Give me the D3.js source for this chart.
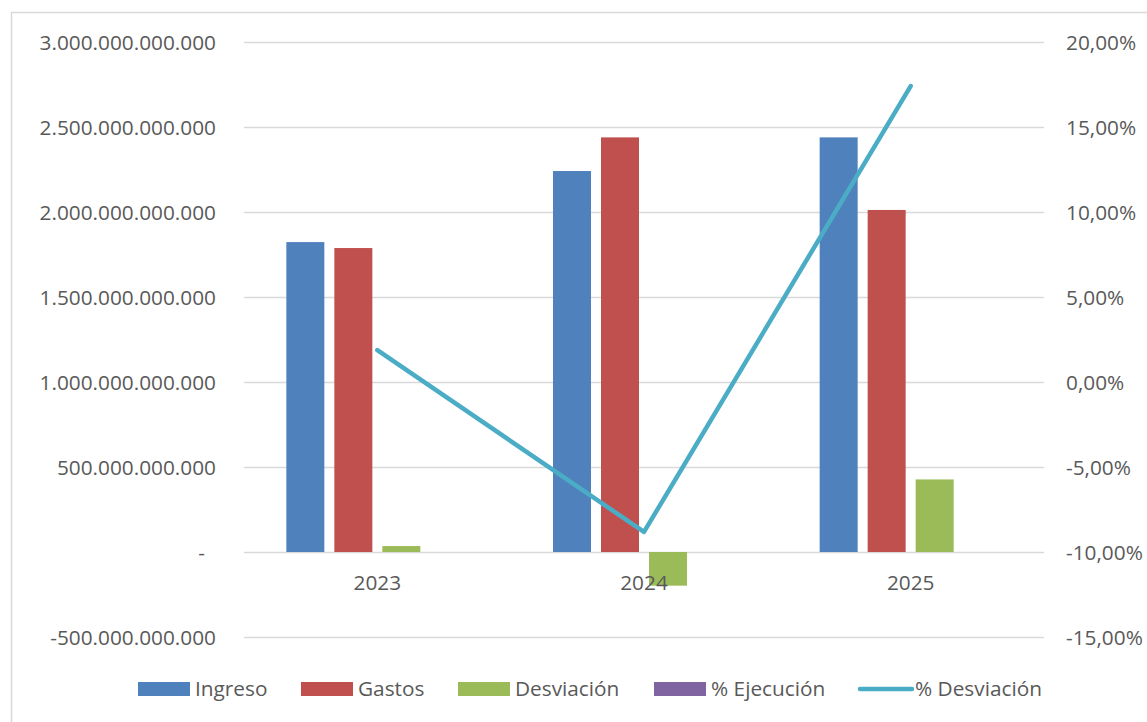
<!DOCTYPE html>
<html>
<head>
<meta charset="utf-8">
<script src="https://cdn.jsdelivr.net/npm/d3@7"></script>
<style>
  html, body { margin: 0; padding: 0; background: #ffffff; }
  svg { display: block; }
  text { font-family: "Open Sans", "Noto Sans", sans-serif; fill: #595959; }
</style>
</head>
<body>
<svg id="chart" width="1147" height="722"></svg>
<script>
// ---- data ----
const categories = ["2023", "2024", "2025"];
const seriesNames = ["Ingreso", "Gastos", "Desviación", "% Ejecución"];
const ingreso = [1823000000000, 2241000000000, 2439000000000];
const gastos = [1788000000000, 2439000000000, 2012000000000];
const desviacion = [35000000000, -198000000000, 427000000000];
const ejecucion = [0.98, 1.09, 0.82];
const pctDesviacion = [0.0188, -0.0882, 0.1741];
const leftTicks = [-500000000000, 0, 500000000000, 1000000000000, 1500000000000, 2000000000000, 2500000000000, 3000000000000];
const rightTicks = [-0.15, -0.10, -0.05, 0, 0.05, 0.10, 0.15, 0.20];
const colors = ["#4f81bd", "#c0504d", "#9bbb59", "#8064a2"];
const lineColor = "#4bacc6";

const seriesValues = [ingreso, gastos, desviacion, ejecucion];

const svg = d3.select("#chart");
const W = 1147, H = 722;
const plot = { left: 244, right: 1044, top: 42, bottom: 637 };
const fontSize = 20.8;

// border
svg.append("rect")
  .attr("x", 11.5).attr("y", 12.5)
  .attr("width", W + 20).attr("height", H + 20)
  .attr("fill", "#fff").attr("stroke", "#d9d9d9").attr("stroke-width", 1.5);

const loc = d3.formatLocale({ decimal: ",", thousands: ".", grouping: [3], currency: ["", ""], minus: "-" });
const fmtLeft = v => v === 0 ? "-" : loc.format(",.0f")(v);
const fmtRight = loc.format(".2%");

const y = d3.scaleLinear().domain([-500000000000, 3000000000000]).range([plot.bottom, plot.top]);
const y2 = d3.scaleLinear().domain([-0.15, 0.20]).range([plot.bottom, plot.top]);
const x = d3.scaleBand().domain(categories).range([plot.left, plot.right])
  .paddingInner(0.3175).paddingOuter(0.15875);
const xi = d3.scaleBand().domain(seriesNames).range([0, x.bandwidth()])
  .paddingInner(10 / 48).paddingOuter(0);
const xc = c => x(c) + x.bandwidth() / 2;

// gridlines
const grid = svg.append("g")
  .attr("transform", `translate(${plot.left},0)`)
  .call(d3.axisLeft(y).tickValues(leftTicks).tickSize(-(plot.right - plot.left)).tickFormat(""));
grid.select(".domain").remove();
grid.selectAll("line").attr("stroke", "#d9d9d9").attr("stroke-width", 1.3);

// left axis labels
const gl = svg.append("g")
  .attr("transform", `translate(216,0)`)
  .call(d3.axisLeft(y).tickValues(leftTicks).tickSize(0).tickPadding(0).tickFormat(fmtLeft));
gl.select(".domain").remove();
gl.selectAll("text")
  .attr("font-size", fontSize).attr("fill", "#595959")
  .style("font-family", "'Open Sans', sans-serif")
  .attr("dy", "0.35em")
  .attr("x", d => d === 0 ? -11 : 0);

// right axis labels
const gr = svg.append("g")
  .attr("transform", `translate(1066,0)`)
  .call(d3.axisRight(y2).tickValues(rightTicks).tickSize(0).tickPadding(0).tickFormat(fmtRight));
gr.select(".domain").remove();
gr.selectAll("text")
  .attr("font-size", fontSize).attr("fill", "#595959")
  .style("font-family", "'Open Sans', sans-serif")
  .attr("dy", "0.35em");

// bars
seriesNames.forEach((s, si) => {
  svg.append("g").selectAll("rect")
    .data(categories.map((c, i) => ({ c, v: seriesValues[si][i] })))
    .join("rect")
    .attr("x", d => x(d.c) + xi(s))
    .attr("width", xi.bandwidth())
    .attr("y", d => Math.min(y(d.v), y(0)))
    .attr("height", d => Math.abs(y(d.v) - y(0)))
    .attr("fill", colors[si]);
});

// x labels
const gx = svg.append("g")
  .attr("transform", `translate(0,${y(0)})`)
  .call(d3.axisBottom(x).tickSize(0).tickPadding(0));
gx.select(".domain").remove();
gx.selectAll("text")
  .attr("font-size", fontSize).attr("fill", "#595959")
  .style("font-family", "'Open Sans', sans-serif")
  .attr("y", 31).attr("dy", "0.35em");

// line
const line = d3.line().x((d, i) => xc(categories[i])).y(d => y2(d));
svg.append("path")
  .datum(pctDesviacion)
  .attr("d", line)
  .attr("fill", "none")
  .attr("stroke", lineColor)
  .attr("stroke-width", 4.5)
  .attr("stroke-linecap", "round")
  .attr("stroke-linejoin", "round");

// legend
const legendItems = [
  { name: "Ingreso", color: colors[0], type: "bar", x: 138 },
  { name: "Gastos", color: colors[1], type: "bar", x: 301 },
  { name: "Desviación", color: colors[2], type: "bar", x: 458 },
  { name: "% Ejecución", color: colors[3], type: "bar", x: 654 },
  { name: "% Desviación", color: lineColor, type: "line", x: 858 }
];
const ly = 689;
const lg = svg.append("g");
legendItems.forEach(it => {
  if (it.type === "bar") {
    lg.append("rect").attr("x", it.x).attr("y", ly - 7).attr("width", 52).attr("height", 14).attr("fill", it.color);
  } else {
    lg.append("line").attr("x1", it.x + 2).attr("x2", it.x + 54).attr("y1", ly).attr("y2", ly)
      .attr("stroke", it.color).attr("stroke-width", 4.5).attr("stroke-linecap", "round");
  }
  lg.append("text").attr("x", it.x + 57).attr("y", ly).attr("dy", "0.35em")
    .attr("font-size", fontSize).text(it.name);
});
</script>
</body>
</html>
